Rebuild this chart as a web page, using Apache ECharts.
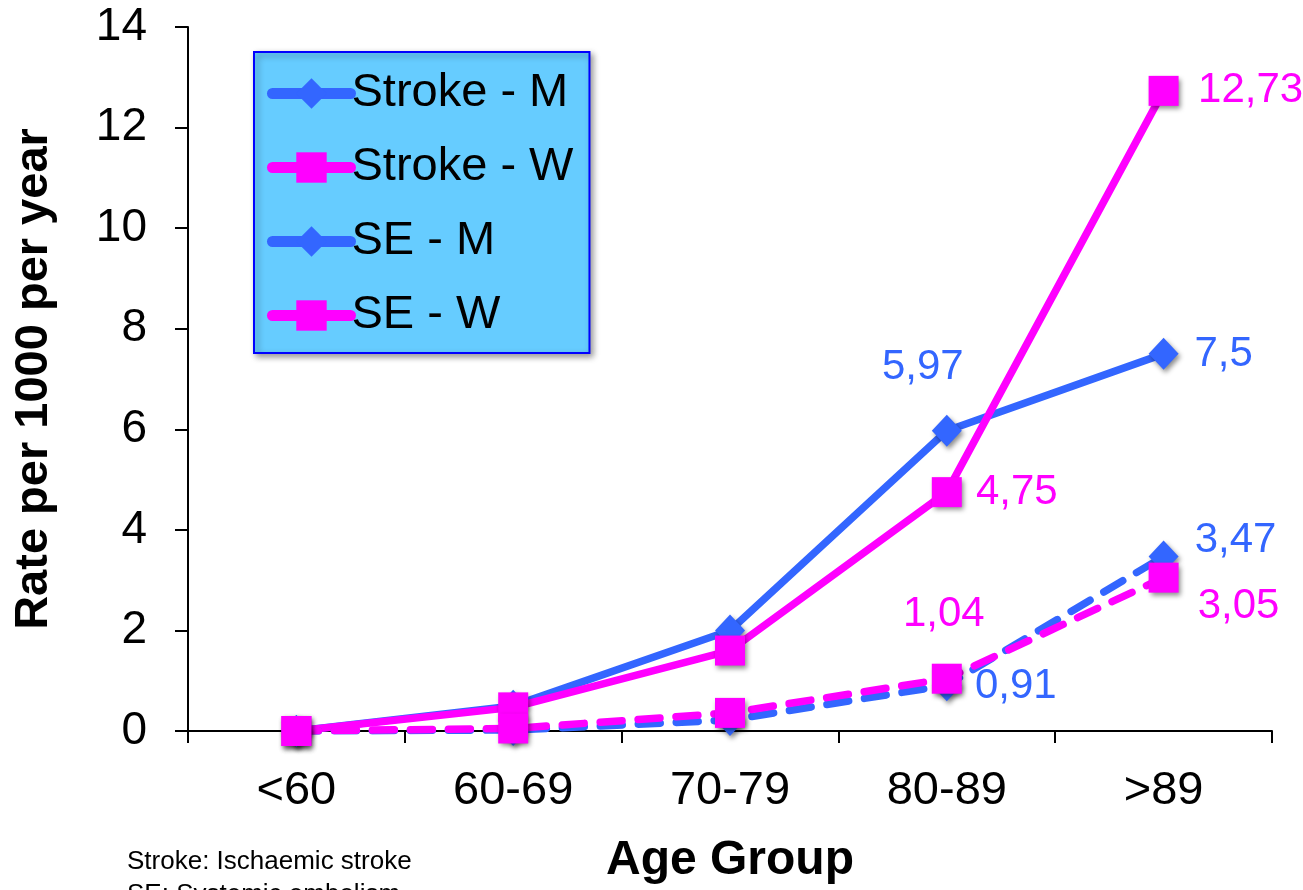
<!DOCTYPE html>
<html><head><meta charset="utf-8">
<script src="https://cdn.jsdelivr.net/npm/echarts@6/dist/echarts.min.js"></script>
<style>html,body{margin:0;padding:0;background:#fff}#c{width:1303px;height:890px}</style>
</head><body><div id="c"></div>
<script>
const categories = ['<60', '60-69', '70-79', '80-89', '>89'];
const strokeM = [0, 0.5, 2.0, 5.97, 7.5];
const strokeW = [0, 0.47, 1.6, 4.75, 12.73];
const seM = [0, 0.02, 0.22, 0.91, 3.47];
const seW = [0, 0.05, 0.36, 1.04, 3.05];
const yTicks = [0, 2, 4, 6, 8, 10, 12, 14];
// which points show a value label, and label offsets (style only)
const labelStrokeM = {3: [-24, -63], 4: [60, 1]};
const labelStrokeW = {3: [70, 0], 4: [87, 0]};
const labelSeM = {3: [69, 1], 4: [72, -16]};
const labelSeW = {3: [-3, -64], 4: [75, 29]};

const BLUE = '#3366FF', MAG = '#FF00FF';
const FONT = 'Liberation Sans, Arial, sans-serif';

function fmt(v){ return String(v).replace('.', ','); }
function build(vals, lab, color){
  return vals.map((v,i)=>{
    const o = {value: v};
    if (lab[i]) {
      o.label = {show:true, position:'inside', offset: lab[i], formatter: fmt(v),
        color: color, fontSize: 42, fontFamily: FONT};
    }
    return o;
  });
}
const shadow = {shadowBlur: 5, shadowColor: 'rgba(0,0,0,0.45)', shadowOffsetX: 2, shadowOffsetY: 3};
function series(name, vals, lab, color, symbol, size, dashed){
  return {
    name, type:'line', data: build(vals, lab, color),
    symbol, symbolSize: size, showAllSymbol: true,
    lineStyle: {color, width: 7.5, type: dashed ? [22, 16] : 'solid', cap: 'round'},
    itemStyle: Object.assign({color}, shadow),
    emphasis: {disabled: true},
    label: {show:false},
    animation: false
  };
}
const chart = echarts.init(document.getElementById('c'));
chart.setOption({
  backgroundColor: '#fff',
  animation: false,
  grid: {left: 188, right: 31, top: 27, bottom: 158},
  legend: {
    orient: 'vertical', left: 254, top: 52,
    backgroundColor: '#66CCFF', borderColor: '#0000FF', borderWidth: 2,
    shadowBlur: 6, shadowColor: 'rgba(0,0,0,0.4)', shadowOffsetX: 3, shadowOffsetY: 3,
    padding: [18, 16, 14, 13], itemGap: 27, itemWidth: 78, itemHeight: 38,
    textStyle: {fontSize: 47, color: '#000', fontFamily: FONT, padding: [0,0,0,-4]},
    lineStyle: {type: 'solid', width: 11, cap: 'round'},
    itemStyle: {shadowBlur: 0, shadowOffsetX: 0, shadowOffsetY: 0},
    data: ['Stroke - M', 'Stroke - W', 'SE - M', 'SE - W']
  },
  xAxis: {
    type: 'category', data: categories, boundaryGap: true,
    axisLine: {lineStyle: {color: '#000', width: 2}},
    axisTick: {show: true, length: 12, lineStyle: {color: '#000', width: 2}},
    axisLabel: {fontSize: 47, color: '#000', fontFamily: FONT, margin: 37},
    name: 'Age Group', nameLocation: 'middle', nameGap: 106,
    nameTextStyle: {fontSize: 48, fontWeight: 'bold', color: '#000', fontFamily: FONT}
  },
  yAxis: {
    type: 'value', min: 0, max: 14, interval: 2,
    axisLine: {show: true, lineStyle: {color: '#000', width: 2}},
    axisTick: {show: true, length: 13, lineStyle: {color: '#000', width: 2}},
    splitLine: {show: false},
    axisLabel: {fontSize: 46, color: '#000', fontFamily: FONT, margin: 41,
      formatter: v => yTicks.includes(v) ? String(v) : ''},
    name: 'Rate per 1000 per year', nameLocation: 'middle', nameGap: 130,
    nameTextStyle: {fontSize: 47, fontWeight: 'bold', color: '#000', fontFamily: FONT}
  },
  graphic: [{
    type: 'text', left: 127, top: 845,
    style: {text: 'Stroke: Ischaemic stroke\nSE: Systemic embolism', fontSize: 26, lineHeight: 33,
      fill: '#000', fontFamily: FONT}
  }],
  series: [
    series('Stroke - M', strokeM, labelStrokeM, BLUE, 'diamond', [30, 32], false),
    series('Stroke - W', strokeW, labelStrokeW, MAG, 'rect', 30, false),
    series('SE - M', seM, labelSeM, BLUE, 'diamond', [30, 32], true),
    series('SE - W', seW, labelSeW, MAG, 'rect', 30, true)
  ]
});
</script></body></html>
